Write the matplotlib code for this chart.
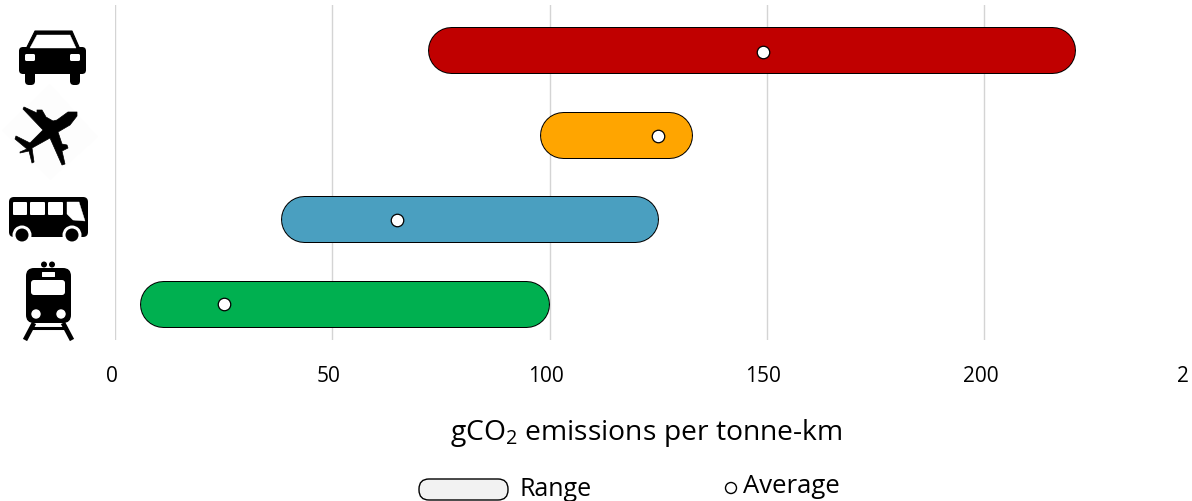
import matplotlib
matplotlib.use("Agg")
import matplotlib.pyplot as plt
from matplotlib.patches import FancyBboxPatch, Polygon, Circle

plt.rcParams['font.family'] = ['Open Sans', 'DejaVu Sans']
plt.rcParams['mathtext.default'] = 'regular'

W, H = 1192, 501

# bottom to top
modes = ["Train", "Bus", "Plane", "Car"]
range_low = [5.6, 38.2, 97.7, 71.9]
range_high = [100.0, 125.0, 132.8, 221.0]
average = [25, 65, 125, 149.2]
colors = ["#00b050", "#4a9fc0", "#ffa500", "#c00000"]
ticks = [0, 50, 100, 150, 200]
tick_labels = ["0", "50", "100", "150", "200"]

x_origin = 115.0
px_per_unit = 4.345
px_per_row = 84.67
bar_px = 47

fig = plt.figure(figsize=(W / 100, H / 100), dpi=100)

# main axes: gridlines run from y=5 to y=340 px
ax = fig.add_axes([x_origin / W, 1 - 340 / H, 1 - x_origin / W, 335 / H])
ax.set_xlim(0, (W - x_origin) / px_per_unit)
ax.set_ylim(-36 / px_per_row, 299 / px_per_row)
for s in ax.spines.values():
    s.set_visible(False)
ax.set_yticks([])
ax.set_xticks(ticks)
ax.set_xticklabels([])
ax.tick_params(axis='x', length=0)
ax.grid(axis='x', color='#d4d4d4', lw=1)
ax.set_axisbelow(True)

# the range pills are thick round-capped lines, black one underneath for the outline
r = (bar_px / 2) / px_per_unit
for i in range(len(modes)):
    xs = [range_low[i] + r, range_high[i] - r]
    ax.plot(xs, [i, i], color='black', lw=bar_px * 0.72, solid_capstyle='round', zorder=2)
    ax.plot(xs, [i, i], color=colors[i], lw=(bar_px - 2) * 0.72, solid_capstyle='round', zorder=2.1)
# the dots sit on a slightly tighter row spacing than the pills
ax.plot(average, [i * 84 / px_per_row for i in range(len(modes))], 'o', ms=9, mfc='white', mec='black',
        mew=0.9, zorder=3, ls='none')

# overlay in pixel coordinates for icons, text and the legend
ov = fig.add_axes([0, 0, 1, 1], zorder=5)
ov.set_xlim(0, W)
ov.set_ylim(H, 0)
ov.axis('off')
ov.patch.set_alpha(0)


def poly(points, color='black', lw=0.8):
    ov.add_patch(Polygon(points, closed=True, fc=color, ec=color, lw=lw, joinstyle='round'))


def box(x0, y0, x1, y1, color='black', r=2):
    ov.add_patch(FancyBboxPatch((x0, y0), x1 - x0, y1 - y0,
                                boxstyle=f"round,pad=0,rounding_size={r}", fc=color, ec='none'))


def disc(x, y, r, color='black'):
    ov.add_patch(Circle((x, y), r, fc=color, ec='none'))


# car
poly([(35, 31), (72, 31), (79, 47), (72, 50), (35, 50), (27, 47)])
box(19, 47, 86, 74, r=4)
box(25, 70, 35, 85, r=4)
box(70, 70, 80, 85, r=4)
poly([(37, 35), (70, 35), (76, 48), (30, 48)], color='white', lw=0.3)
box(25, 54, 35, 61, color='white', r=1.5)
box(70, 54, 80, 61, color='white', r=1.5)

# plane, with its faint backing square
poly([(50, 84), (98, 137), (50, 180), (2, 130)], color='#fdfdfd', lw=0)
poly([(77, 112), (68, 112), (57, 120), (53, 121), (46, 117), (42, 110), (37, 110), (37, 113), (24, 107),
      (23, 109), (43, 130), (30, 143), (16, 136), (15, 139), (27, 149), (20, 152), (20, 153), (29, 151),
      (32, 163), (34, 162), (32, 148), (50, 138), (62, 165), (65, 164), (62, 151), (68, 148), (67, 145),
      (62, 144), (58, 132), (70, 125), (77, 116)], lw=0.5)

# bus
box(9, 197, 88, 237, r=5)
box(13, 202, 27, 215, color='white', r=1)
box(30, 202, 45, 215, color='white', r=1)
box(48, 202, 63, 215, color='white', r=1)
poly([(67, 202), (79, 202), (85, 221), (73, 220), (67, 214)], color='white', lw=0.3)
for cx in [22, 72]:
    disc(cx, 235, 9.5, 'white')
    disc(cx, 235, 6.5)

# train
box(26, 268, 71, 323, r=8)
box(31, 280, 65, 295, color='white', r=3)
box(42, 272, 55, 277, color='white', r=0.5)
disc(44, 264.5, 3)
disc(52, 264.5, 3)
disc(36, 314, 4.7, 'white')
disc(61, 314, 4.7, 'white')
ov.plot([34, 25], [323, 340], color='black', lw=3.4, solid_capstyle='butt')
ov.plot([63, 72], [323, 340], color='black', lw=3.4, solid_capstyle='butt')
ov.plot([30, 67], [328, 328], color='black', lw=2.2, solid_capstyle='butt')

# tick labels sit a little left of their gridlines
for t, lab in zip(ticks, tick_labels):
    ov.text(x_origin + t * px_per_unit - 3.5, 377, lab, ha='center', va='center', fontsize=15, color='black')
ov.text(1183, 377, "2", ha='center', va='center', fontsize=15, color='black')

ov.text(646, 433, "gCO$_2$ emissions per tonne-km", ha='center', va='center', fontsize=20.3, color='black')

# legend
ov.add_patch(FancyBboxPatch((419, 479), 89, 21, boxstyle="round,pad=0,rounding_size=10",
                            fc='#f2f2f2', ec='black', lw=1))
ov.text(520, 489, "Range", ha='left', va='center', fontsize=18, color='black')
ov.add_patch(Circle((731, 488), 5.5, fc='white', ec='black', lw=1))
ov.text(743, 486.5, "Average", ha='left', va='center', fontsize=18.5, color='black')

fig.savefig("out.png", dpi=100)
